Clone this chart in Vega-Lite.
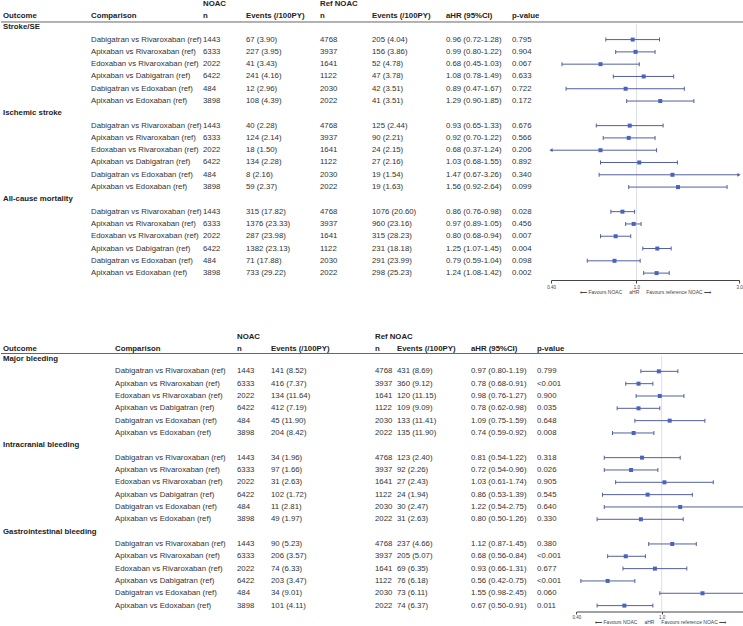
{
  "$schema": "https://vega.github.io/schema/vega-lite/v6.json",
  "padding": 0,
  "background": "white",
  "spacing": 20,
  "bounds": "flush",
  "config": {
    "view": {"stroke": null},
    "text": {"font": "Liberation Sans", "fontSize": 7.8, "align": "left", "baseline": "middle", "color": "#222222"},
    "axis": {"labelFont": "Liberation Sans", "titleFont": "Liberation Sans"}
  },
  "datasets": {
    "top": [
      {"outcome": "Stroke/SE"},
      {"outcome": "Stroke/SE", "comparison": "Dabigatran vs Rivaroxaban (ref)", "n1": "1443", "ev1": "67 (3.90)", "n2": "4768", "ev2": "205 (4.04)", "ahr": "0.96 (0.72-1.28)", "p": "0.795", "hr": 0.96, "lo": 0.72, "hi": 1.28},
      {"outcome": "Stroke/SE", "comparison": "Apixaban vs Rivaroxaban (ref)", "n1": "6333", "ev1": "227 (3.95)", "n2": "3937", "ev2": "156 (3.86)", "ahr": "0.99 (0.80-1.22)", "p": "0.904", "hr": 0.99, "lo": 0.80, "hi": 1.22},
      {"outcome": "Stroke/SE", "comparison": "Edoxaban vs Rivaroxaban (ref)", "n1": "2022", "ev1": "41 (3.43)", "n2": "1641", "ev2": "52 (4.78)", "ahr": "0.68 (0.45-1.03)", "p": "0.067", "hr": 0.68, "lo": 0.45, "hi": 1.03},
      {"outcome": "Stroke/SE", "comparison": "Apixaban vs Dabigatran (ref)", "n1": "6422", "ev1": "241 (4.16)", "n2": "1122", "ev2": "47 (3.78)", "ahr": "1.08 (0.78-1.49)", "p": "0.633", "hr": 1.08, "lo": 0.78, "hi": 1.49},
      {"outcome": "Stroke/SE", "comparison": "Dabigatran vs Edoxaban (ref)", "n1": "484", "ev1": "12 (2.96)", "n2": "2030", "ev2": "42 (3.51)", "ahr": "0.89 (0.47-1.67)", "p": "0.722", "hr": 0.89, "lo": 0.47, "hi": 1.67},
      {"outcome": "Stroke/SE", "comparison": "Apixaban vs Edoxaban (ref)", "n1": "3898", "ev1": "108 (4.39)", "n2": "2022", "ev2": "41 (3.51)", "ahr": "1.29 (0.90-1.85)", "p": "0.172", "hr": 1.29, "lo": 0.90, "hi": 1.85},
      {"outcome": "Ischemic stroke"},
      {"outcome": "Ischemic stroke", "comparison": "Dabigatran vs Rivaroxaban (ref)", "n1": "1443", "ev1": "40 (2.28)", "n2": "4768", "ev2": "125 (2.44)", "ahr": "0.93 (0.65-1.33)", "p": "0.676", "hr": 0.93, "lo": 0.65, "hi": 1.33},
      {"outcome": "Ischemic stroke", "comparison": "Apixaban vs Rivaroxaban (ref)", "n1": "6333", "ev1": "124 (2.14)", "n2": "3937", "ev2": "90 (2.21)", "ahr": "0.92 (0.70-1.22)", "p": "0.566", "hr": 0.92, "lo": 0.70, "hi": 1.22},
      {"outcome": "Ischemic stroke", "comparison": "Edoxaban vs Rivaroxaban (ref)", "n1": "2022", "ev1": "18 (1.50)", "n2": "1641", "ev2": "24 (2.15)", "ahr": "0.68 (0.37-1.24)", "p": "0.206", "hr": 0.68, "lo": 0.37, "hi": 1.24},
      {"outcome": "Ischemic stroke", "comparison": "Apixaban vs Dabigatran (ref)", "n1": "6422", "ev1": "134 (2.28)", "n2": "1122", "ev2": "27 (2.16)", "ahr": "1.03 (0.68-1.55)", "p": "0.892", "hr": 1.03, "lo": 0.68, "hi": 1.55},
      {"outcome": "Ischemic stroke", "comparison": "Dabigatran vs Edoxaban (ref)", "n1": "484", "ev1": "8 (2.16)", "n2": "2030", "ev2": "19 (1.54)", "ahr": "1.47 (0.67-3.26)", "p": "0.340", "hr": 1.47, "lo": 0.67, "hi": 3.26},
      {"outcome": "Ischemic stroke", "comparison": "Apixaban vs Edoxaban (ref)", "n1": "3898", "ev1": "59 (2.37)", "n2": "2022", "ev2": "19 (1.63)", "ahr": "1.56 (0.92-2.64)", "p": "0.099", "hr": 1.56, "lo": 0.92, "hi": 2.64},
      {"outcome": "All-cause mortality"},
      {"outcome": "All-cause mortality", "comparison": "Dabigatran vs Rivaroxaban (ref)", "n1": "1443", "ev1": "315 (17.82)", "n2": "4768", "ev2": "1076 (20.60)", "ahr": "0.86 (0.76-0.98)", "p": "0.028", "hr": 0.86, "lo": 0.76, "hi": 0.98},
      {"outcome": "All-cause mortality", "comparison": "Apixaban vs Rivaroxaban (ref)", "n1": "6333", "ev1": "1376 (23.33)", "n2": "3937", "ev2": "960 (23.16)", "ahr": "0.97 (0.89-1.05)", "p": "0.456", "hr": 0.97, "lo": 0.89, "hi": 1.05},
      {"outcome": "All-cause mortality", "comparison": "Edoxaban vs Rivaroxaban (ref)", "n1": "2022", "ev1": "287 (23.98)", "n2": "1641", "ev2": "315 (28.23)", "ahr": "0.80 (0.68-0.94)", "p": "0.007", "hr": 0.80, "lo": 0.68, "hi": 0.94},
      {"outcome": "All-cause mortality", "comparison": "Apixaban vs Dabigatran (ref)", "n1": "6422", "ev1": "1382 (23.13)", "n2": "1122", "ev2": "231 (18.18)", "ahr": "1.25 (1.07-1.45)", "p": "0.004", "hr": 1.25, "lo": 1.07, "hi": 1.45},
      {"outcome": "All-cause mortality", "comparison": "Dabigatran vs Edoxaban (ref)", "n1": "484", "ev1": "71 (17.88)", "n2": "2030", "ev2": "291 (23.99)", "ahr": "0.79 (0.59-1.04)", "p": "0.098", "hr": 0.79, "lo": 0.59, "hi": 1.04},
      {"outcome": "All-cause mortality", "comparison": "Apixaban vs Edoxaban (ref)", "n1": "3898", "ev1": "733 (29.22)", "n2": "2022", "ev2": "298 (25.23)", "ahr": "1.24 (1.08-1.42)", "p": "0.002", "hr": 1.24, "lo": 1.08, "hi": 1.42}
    ],
    "bottom": [
      {"outcome": "Major bleeding"},
      {"outcome": "Major bleeding", "comparison": "Dabigatran vs Rivaroxaban (ref)", "n1": "1443", "ev1": "141 (8.52)", "n2": "4768", "ev2": "431 (8.69)", "ahr": "0.97 (0.80-1.19)", "p": "0.799", "hr": 0.97, "lo": 0.80, "hi": 1.19},
      {"outcome": "Major bleeding", "comparison": "Apixaban vs Rivaroxaban (ref)", "n1": "6333", "ev1": "416 (7.37)", "n2": "3937", "ev2": "360 (9.12)", "ahr": "0.78 (0.68-0.91)", "p": "<0.001", "hr": 0.78, "lo": 0.68, "hi": 0.91},
      {"outcome": "Major bleeding", "comparison": "Edoxaban vs Rivaroxaban (ref)", "n1": "2022", "ev1": "134 (11.64)", "n2": "1641", "ev2": "120 (11.15)", "ahr": "0.98 (0.76-1.27)", "p": "0.900", "hr": 0.98, "lo": 0.76, "hi": 1.27},
      {"outcome": "Major bleeding", "comparison": "Apixaban vs Dabigatran (ref)", "n1": "6422", "ev1": "412 (7.19)", "n2": "1122", "ev2": "109 (9.09)", "ahr": "0.78 (0.62-0.98)", "p": "0.035", "hr": 0.78, "lo": 0.62, "hi": 0.98},
      {"outcome": "Major bleeding", "comparison": "Dabigatran vs Edoxaban (ref)", "n1": "484", "ev1": "45 (11.90)", "n2": "2030", "ev2": "133 (11.41)", "ahr": "1.09 (0.75-1.59)", "p": "0.648", "hr": 1.09, "lo": 0.75, "hi": 1.59},
      {"outcome": "Major bleeding", "comparison": "Apixaban vs Edoxaban (ref)", "n1": "3898", "ev1": "204 (8.42)", "n2": "2022", "ev2": "135 (11.90)", "ahr": "0.74 (0.59-0.92)", "p": "0.008", "hr": 0.74, "lo": 0.59, "hi": 0.92},
      {"outcome": "Intracranial bleeding"},
      {"outcome": "Intracranial bleeding", "comparison": "Dabigatran vs Rivaroxaban (ref)", "n1": "1443", "ev1": "34 (1.96)", "n2": "4768", "ev2": "123 (2.40)", "ahr": "0.81 (0.54-1.22)", "p": "0.318", "hr": 0.81, "lo": 0.54, "hi": 1.22},
      {"outcome": "Intracranial bleeding", "comparison": "Apixaban vs Rivaroxaban (ref)", "n1": "6333", "ev1": "97 (1.66)", "n2": "3937", "ev2": "92 (2.26)", "ahr": "0.72 (0.54-0.96)", "p": "0.026", "hr": 0.72, "lo": 0.54, "hi": 0.96},
      {"outcome": "Intracranial bleeding", "comparison": "Edoxaban vs Rivaroxaban (ref)", "n1": "2022", "ev1": "31 (2.63)", "n2": "1641", "ev2": "27 (2.43)", "ahr": "1.03 (0.61-1.74)", "p": "0.905", "hr": 1.03, "lo": 0.61, "hi": 1.74},
      {"outcome": "Intracranial bleeding", "comparison": "Apixaban vs Dabigatran (ref)", "n1": "6422", "ev1": "102 (1.72)", "n2": "1122", "ev2": "24 (1.94)", "ahr": "0.86 (0.53-1.39)", "p": "0.545", "hr": 0.86, "lo": 0.53, "hi": 1.39},
      {"outcome": "Intracranial bleeding", "comparison": "Dabigatran vs Edoxaban (ref)", "n1": "484", "ev1": "11 (2.81)", "n2": "2030", "ev2": "30 (2.47)", "ahr": "1.22 (0.54-2.75)", "p": "0.640", "hr": 1.22, "lo": 0.54, "hi": 2.75},
      {"outcome": "Intracranial bleeding", "comparison": "Apixaban vs Edoxaban (ref)", "n1": "3898", "ev1": "49 (1.97)", "n2": "2022", "ev2": "31 (2.63)", "ahr": "0.80 (0.50-1.26)", "p": "0.330", "hr": 0.80, "lo": 0.50, "hi": 1.26},
      {"outcome": "Gastrointestinal bleeding"},
      {"outcome": "Gastrointestinal bleeding", "comparison": "Dabigatran vs Rivaroxaban (ref)", "n1": "1443", "ev1": "90 (5.23)", "n2": "4768", "ev2": "237 (4.66)", "ahr": "1.12 (0.87-1.45)", "p": "0.380", "hr": 1.12, "lo": 0.87, "hi": 1.45},
      {"outcome": "Gastrointestinal bleeding", "comparison": "Apixaban vs Rivaroxaban (ref)", "n1": "6333", "ev1": "206 (3.57)", "n2": "3937", "ev2": "205 (5.07)", "ahr": "0.68 (0.56-0.84)", "p": "<0.001", "hr": 0.68, "lo": 0.56, "hi": 0.84},
      {"outcome": "Gastrointestinal bleeding", "comparison": "Edoxaban vs Rivaroxaban (ref)", "n1": "2022", "ev1": "74 (6.33)", "n2": "1641", "ev2": "69 (6.35)", "ahr": "0.93 (0.66-1.31)", "p": "0.677", "hr": 0.93, "lo": 0.66, "hi": 1.31},
      {"outcome": "Gastrointestinal bleeding", "comparison": "Apixaban vs Dabigatran (ref)", "n1": "6422", "ev1": "203 (3.47)", "n2": "1122", "ev2": "76 (6.18)", "ahr": "0.56 (0.42-0.75)", "p": "<0.001", "hr": 0.56, "lo": 0.42, "hi": 0.75},
      {"outcome": "Gastrointestinal bleeding", "comparison": "Dabigatran vs Edoxaban (ref)", "n1": "484", "ev1": "34 (9.01)", "n2": "2030", "ev2": "73 (6.11)", "ahr": "1.55 (0.98-2.45)", "p": "0.060", "hr": 1.55, "lo": 0.98, "hi": 2.45},
      {"outcome": "Gastrointestinal bleeding", "comparison": "Apixaban vs Edoxaban (ref)", "n1": "3898", "ev1": "101 (4.11)", "n2": "2022", "ev2": "74 (6.37)", "ahr": "0.67 (0.50-0.91)", "p": "0.011", "hr": 0.67, "lo": 0.50, "hi": 0.91}
    ]
  },
  "vconcat": [
    {
      "width": 743,
      "height": 280,
      "data": {"name": "top"},
      "transform": [{"window": [{"op": "row_number", "as": "row"}]}],
      "layer": [
        {
          "layer": [
            {"transform": [{"filter": "!isValid(datum.comparison)"}], "mark": {"type": "text", "fontWeight": "bold"}, "encoding": {
              "x": {"datum": 2, "type": "quantitative", "axis": null, "scale": {"domain": [0, 743], "range": [0, 743], "nice": false, "zero": false}},
              "y": {"field": "row", "type": "quantitative", "axis": null, "scale": {"domain": [-1.221, 21.561], "reverse": true, "nice": false, "zero": false}},
              "text": {"field": "outcome"}}},
            {"transform": [{"filter": "isValid(datum.comparison)"}],
             "encoding": {"y": {"field": "row", "type": "quantitative", "axis": null, "scale": {"domain": [-1.221, 21.561], "reverse": true, "nice": false, "zero": false}}},
             "layer": [
              {"mark": {"type": "text", "color": "#333333"}, "encoding": {"x": {"datum": 90, "type": "quantitative", "axis": null}, "text": {"field": "comparison"}}},
              {"mark": {"type": "text", "color": "#333333"}, "encoding": {"x": {"datum": 202, "type": "quantitative", "axis": null}, "text": {"field": "n1"}}},
              {"mark": {"type": "text", "color": "#333333"}, "encoding": {"x": {"datum": 245, "type": "quantitative", "axis": null}, "text": {"field": "ev1"}}},
              {"mark": {"type": "text", "color": "#333333"}, "encoding": {"x": {"datum": 319, "type": "quantitative", "axis": null}, "text": {"field": "n2"}}},
              {"mark": {"type": "text", "color": "#333333"}, "encoding": {"x": {"datum": 371, "type": "quantitative", "axis": null}, "text": {"field": "ev2"}}},
              {"mark": {"type": "text", "color": "#333333"}, "encoding": {"x": {"datum": 445, "type": "quantitative", "axis": null}, "text": {"field": "ahr"}}},
              {"mark": {"type": "text", "color": "#333333"}, "encoding": {"x": {"datum": 511, "type": "quantitative", "axis": null}, "text": {"field": "p"}}}
            ]},
            {"data": {"values": [{}]}, "mark": {"type": "text", "fontWeight": "bold"}, "encoding": {"x": {"datum": 2, "type": "quantitative", "axis": null}, "y": {"datum": 0.056, "type": "quantitative", "axis": null}, "text": {"value": "Outcome"}}},
            {"data": {"values": [{}]}, "mark": {"type": "text", "fontWeight": "bold"}, "encoding": {"x": {"datum": 90, "type": "quantitative", "axis": null}, "y": {"datum": 0.056, "type": "quantitative", "axis": null}, "text": {"value": "Comparison"}}},
            {"data": {"values": [{}]}, "mark": {"type": "text", "fontWeight": "bold"}, "encoding": {"x": {"datum": 202, "type": "quantitative", "axis": null}, "y": {"datum": -0.871, "type": "quantitative", "axis": null}, "text": {"value": "NOAC"}}},
            {"data": {"values": [{}]}, "mark": {"type": "text", "fontWeight": "bold"}, "encoding": {"x": {"datum": 202, "type": "quantitative", "axis": null}, "y": {"datum": 0.056, "type": "quantitative", "axis": null}, "text": {"value": "n"}}},
            {"data": {"values": [{}]}, "mark": {"type": "text", "fontWeight": "bold"}, "encoding": {"x": {"datum": 245, "type": "quantitative", "axis": null}, "y": {"datum": 0.056, "type": "quantitative", "axis": null}, "text": {"value": "Events (/100PY)"}}},
            {"data": {"values": [{}]}, "mark": {"type": "text", "fontWeight": "bold"}, "encoding": {"x": {"datum": 319, "type": "quantitative", "axis": null}, "y": {"datum": -0.871, "type": "quantitative", "axis": null}, "text": {"value": "Ref NOAC"}}},
            {"data": {"values": [{}]}, "mark": {"type": "text", "fontWeight": "bold"}, "encoding": {"x": {"datum": 319, "type": "quantitative", "axis": null}, "y": {"datum": 0.056, "type": "quantitative", "axis": null}, "text": {"value": "n"}}},
            {"data": {"values": [{}]}, "mark": {"type": "text", "fontWeight": "bold"}, "encoding": {"x": {"datum": 371, "type": "quantitative", "axis": null}, "y": {"datum": 0.056, "type": "quantitative", "axis": null}, "text": {"value": "Events (/100PY)"}}},
            {"data": {"values": [{}]}, "mark": {"type": "text", "fontWeight": "bold"}, "encoding": {"x": {"datum": 445, "type": "quantitative", "axis": null}, "y": {"datum": 0.056, "type": "quantitative", "axis": null}, "text": {"value": "aHR (95%CI)"}}},
            {"data": {"values": [{}]}, "mark": {"type": "text", "fontWeight": "bold"}, "encoding": {"x": {"datum": 511, "type": "quantitative", "axis": null}, "y": {"datum": 0.056, "type": "quantitative", "axis": null}, "text": {"value": "p-value"}}},
            {"data": {"values": [{}]}, "mark": {"type": "rule", "color": "#666666", "strokeWidth": 1}, "encoding": {"y": {"datum": 0.569, "type": "quantitative", "axis": null}}}
          ]
        },
        {
          "layer": [
            {"data": {"values": [{}]}, "mark": {"type": "rule", "color": "#dde0e8", "strokeWidth": 1}, "encoding": {
              "x": {"datum": 1, "type": "quantitative"},
              "y": {"datum": 0.75, "type": "quantitative", "axis": null},
              "y2": {"datum": 21.561}
            }},
            {"transform": [{"filter": "isValid(datum.hr)"}],
             "encoding": {"y": {"field": "row", "type": "quantitative", "axis": null, "scale": {"domain": [-1.221, 21.561], "reverse": true, "nice": false, "zero": false}}},
             "layer": [
              {"mark": {"type": "rule", "color": "#52609f", "strokeWidth": 1}, "encoding": {
                "x": {"field": "lo", "type": "quantitative", "scale": {"type": "log", "domain": [0.4, 3], "range": [550, 738], "clamp": true, "nice": false}, "axis": {"orient": "bottom", "values": [0.4, 1, 3], "labelExpr": "datum.value < 0.5 ? '0.40' : format(datum.value, '.1f')", "labelFontSize": 4.5, "labelColor": "#444444", "labelFlush": false, "labelPadding": 1, "tickSize": 3, "tickColor": "#444444", "domainColor": "#444444", "grid": false, "title": "\u00a0\u00a0\u00a0\u00a0⟵ Favours NOAC\u00a0\u00a0\u00a0\u00a0 aHR \u00a0\u00a0\u00a0\u00a0Favours reference NOAC ⟶", "titleFontSize": 5, "titleFontWeight": "normal", "titleColor": "#444444", "titlePadding": 1}},
                "x2": {"field": "hi"}}},
              {"transform": [{"filter": "datum.lo >= 0.4"}], "mark": {"type": "tick", "orient": "vertical", "size": 4, "thickness": 1, "color": "#52609f", "opacity": 1}, "encoding": {"x": {"field": "lo", "type": "quantitative"}}},
              {"transform": [{"filter": "datum.hi <= 3"}], "mark": {"type": "tick", "orient": "vertical", "size": 4, "thickness": 1, "color": "#52609f", "opacity": 1}, "encoding": {"x": {"field": "hi", "type": "quantitative"}}},
              {"transform": [{"filter": "datum.lo < 0.4"}], "mark": {"type": "point", "shape": "triangle-left", "filled": true, "size": 14, "color": "#52609f", "opacity": 1}, "encoding": {"x": {"field": "lo", "type": "quantitative"}}},
              {"transform": [{"filter": "datum.hi > 3"}], "mark": {"type": "point", "shape": "triangle-right", "filled": true, "size": 14, "color": "#52609f", "opacity": 1}, "encoding": {"x": {"field": "hi", "type": "quantitative"}}},
              {"mark": {"type": "point", "shape": "square", "filled": true, "size": 16, "color": "#4a62c0", "opacity": 1}, "encoding": {"x": {"field": "hr", "type": "quantitative"}}}
            ]}
          ]
        }
      ],
      "resolve": {"scale": {"x": "independent"}}
    },
    {
      "width": 743,
      "height": 311.5,
      "data": {"name": "bottom"},
      "transform": [{"window": [{"op": "row_number", "as": "row"}]}],
      "layer": [
        {
          "layer": [
            {"transform": [{"filter": "!isValid(datum.comparison)"}], "mark": {"type": "text", "fontWeight": "bold"}, "encoding": {
              "x": {"datum": 2, "type": "quantitative", "axis": null, "scale": {"domain": [0, 743], "range": [0, 743], "nice": false, "zero": false}},
              "y": {"field": "row", "type": "quantitative", "axis": null, "scale": {"domain": [-3.785, 21.478], "reverse": true, "nice": false, "zero": false}},
              "text": {"field": "outcome"}}},
            {"transform": [{"filter": "isValid(datum.comparison)"}],
             "encoding": {"y": {"field": "row", "type": "quantitative", "axis": null, "scale": {"domain": [-3.785, 21.478], "reverse": true, "nice": false, "zero": false}}},
             "layer": [
              {"mark": {"type": "text", "color": "#333333"}, "encoding": {"x": {"datum": 114, "type": "quantitative", "axis": null}, "text": {"field": "comparison"}}},
              {"mark": {"type": "text", "color": "#333333"}, "encoding": {"x": {"datum": 236, "type": "quantitative", "axis": null}, "text": {"field": "n1"}}},
              {"mark": {"type": "text", "color": "#333333"}, "encoding": {"x": {"datum": 270, "type": "quantitative", "axis": null}, "text": {"field": "ev1"}}},
              {"mark": {"type": "text", "color": "#333333"}, "encoding": {"x": {"datum": 374, "type": "quantitative", "axis": null}, "text": {"field": "n2"}}},
              {"mark": {"type": "text", "color": "#333333"}, "encoding": {"x": {"datum": 396, "type": "quantitative", "axis": null}, "text": {"field": "ev2"}}},
              {"mark": {"type": "text", "color": "#333333"}, "encoding": {"x": {"datum": 470, "type": "quantitative", "axis": null}, "text": {"field": "ahr"}}},
              {"mark": {"type": "text", "color": "#333333"}, "encoding": {"x": {"datum": 536, "type": "quantitative", "axis": null}, "text": {"field": "p"}}}
            ]},
            {"data": {"values": [{}]}, "mark": {"type": "text", "fontWeight": "bold"}, "encoding": {"x": {"datum": 2, "type": "quantitative", "axis": null}, "y": {"datum": 0.213, "type": "quantitative", "axis": null}, "text": {"value": "Outcome"}}},
            {"data": {"values": [{}]}, "mark": {"type": "text", "fontWeight": "bold"}, "encoding": {"x": {"datum": 114, "type": "quantitative", "axis": null}, "y": {"datum": 0.213, "type": "quantitative", "axis": null}, "text": {"value": "Comparison"}}},
            {"data": {"values": [{}]}, "mark": {"type": "text", "fontWeight": "bold"}, "encoding": {"x": {"datum": 236, "type": "quantitative", "axis": null}, "y": {"datum": -0.784, "type": "quantitative", "axis": null}, "text": {"value": "NOAC"}}},
            {"data": {"values": [{}]}, "mark": {"type": "text", "fontWeight": "bold"}, "encoding": {"x": {"datum": 236, "type": "quantitative", "axis": null}, "y": {"datum": 0.213, "type": "quantitative", "axis": null}, "text": {"value": "n"}}},
            {"data": {"values": [{}]}, "mark": {"type": "text", "fontWeight": "bold"}, "encoding": {"x": {"datum": 270, "type": "quantitative", "axis": null}, "y": {"datum": 0.213, "type": "quantitative", "axis": null}, "text": {"value": "Events (/100PY)"}}},
            {"data": {"values": [{}]}, "mark": {"type": "text", "fontWeight": "bold"}, "encoding": {"x": {"datum": 374, "type": "quantitative", "axis": null}, "y": {"datum": -0.784, "type": "quantitative", "axis": null}, "text": {"value": "Ref NOAC"}}},
            {"data": {"values": [{}]}, "mark": {"type": "text", "fontWeight": "bold"}, "encoding": {"x": {"datum": 374, "type": "quantitative", "axis": null}, "y": {"datum": 0.213, "type": "quantitative", "axis": null}, "text": {"value": "n"}}},
            {"data": {"values": [{}]}, "mark": {"type": "text", "fontWeight": "bold"}, "encoding": {"x": {"datum": 396, "type": "quantitative", "axis": null}, "y": {"datum": 0.213, "type": "quantitative", "axis": null}, "text": {"value": "Events (/100PY)"}}},
            {"data": {"values": [{}]}, "mark": {"type": "text", "fontWeight": "bold"}, "encoding": {"x": {"datum": 470, "type": "quantitative", "axis": null}, "y": {"datum": 0.213, "type": "quantitative", "axis": null}, "text": {"value": "aHR (95%CI)"}}},
            {"data": {"values": [{}]}, "mark": {"type": "text", "fontWeight": "bold"}, "encoding": {"x": {"datum": 536, "type": "quantitative", "axis": null}, "y": {"datum": 0.213, "type": "quantitative", "axis": null}, "text": {"value": "p-value"}}},
            {"data": {"values": [{}]}, "mark": {"type": "rule", "color": "#666666", "strokeWidth": 1}, "encoding": {"y": {"datum": 0.554, "type": "quantitative", "axis": null}}}
          ]
        },
        {
          "layer": [
            {"data": {"values": [{}]}, "mark": {"type": "rule", "color": "#dde0e8", "strokeWidth": 1}, "encoding": {
              "x": {"datum": 1, "type": "quantitative"},
              "y": {"datum": 0.75, "type": "quantitative", "axis": null},
              "y2": {"datum": 21.478}
            }},
            {"transform": [{"filter": "isValid(datum.hr)"}],
             "encoding": {"y": {"field": "row", "type": "quantitative", "axis": null, "scale": {"domain": [-3.785, 21.478], "reverse": true, "nice": false, "zero": false}}},
             "layer": [
              {"mark": {"type": "rule", "color": "#52609f", "strokeWidth": 1}, "encoding": {
                "x": {"field": "lo", "type": "quantitative", "scale": {"type": "log", "domain": [0.4, 2.42], "range": [575.3, 743], "clamp": true, "nice": false}, "axis": {"orient": "bottom", "values": [0.4, 1], "labelExpr": "datum.value < 0.5 ? '0.40' : format(datum.value, '.1f')", "labelFontSize": 4.5, "labelColor": "#444444", "labelFlush": false, "labelPadding": 0.5, "tickSize": 2.5, "tickColor": "#444444", "domainColor": "#444444", "grid": false, "title": "\u00a0\u00a0\u00a0\u00a0\u00a0\u00a0\u00a0⟵ Favours NOAC\u00a0\u00a0\u00a0\u00a0 aHR \u00a0\u00a0\u00a0\u00a0Favours reference NOAC ⟶", "titleFontSize": 5, "titleFontWeight": "normal", "titleColor": "#444444", "titlePadding": 0.5}},
                "x2": {"field": "hi"}}},
              {"mark": {"type": "tick", "orient": "vertical", "size": 4, "thickness": 1, "color": "#52609f", "opacity": 1}, "encoding": {"x": {"field": "lo", "type": "quantitative"}}},
              {"transform": [{"filter": "datum.hi <= 2.42"}], "mark": {"type": "tick", "orient": "vertical", "size": 4, "thickness": 1, "color": "#52609f", "opacity": 1}, "encoding": {"x": {"field": "hi", "type": "quantitative"}}},
              {"mark": {"type": "point", "shape": "square", "filled": true, "size": 16, "color": "#4a62c0", "opacity": 1}, "encoding": {"x": {"field": "hr", "type": "quantitative"}}}
            ]}
          ]
        }
      ],
      "resolve": {"scale": {"x": "independent"}}
    }
  ]
}
